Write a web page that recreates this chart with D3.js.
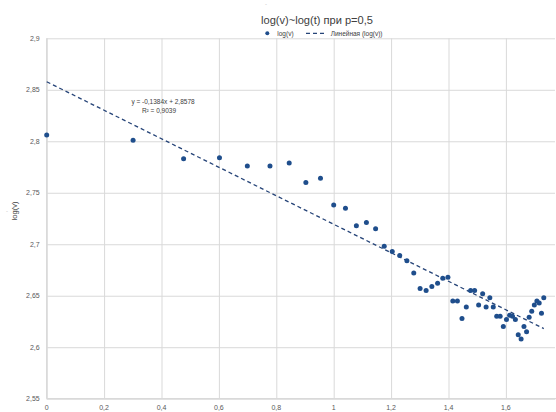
<!DOCTYPE html>
<html>
<head>
<meta charset="utf-8">
<script src="https://cdn.jsdelivr.net/npm/d3@7"></script>
<style>
  body { margin: 0; background: #fff; }
  svg { display: block; }
  text { font-family: "Liberation Sans", Arial, sans-serif; }
</style>
</head>
<body>
<svg id="chart" width="556" height="412"></svg>
<script>
// log(t), t = 1..54
var logT = [0, 0.301, 0.477, 0.602, 0.699, 0.778, 0.845, 0.903, 0.954, 1,
    1.041, 1.079, 1.114, 1.146, 1.176, 1.204, 1.230, 1.255, 1.279, 1.301,
    1.322, 1.342, 1.362, 1.380, 1.398, 1.415, 1.431, 1.447, 1.462, 1.477,
    1.491, 1.505, 1.519, 1.531, 1.544, 1.556, 1.568, 1.580, 1.591, 1.602,
    1.613, 1.623, 1.633, 1.643, 1.653, 1.663, 1.672, 1.681, 1.690, 1.699,
    1.708, 1.716, 1.724, 1.732];
var logV = [2.806, 2.801, 2.783, 2.784, 2.776, 2.776, 2.779, 2.760, 2.764, 2.738,
    2.735, 2.718, 2.721, 2.715, 2.698, 2.693, 2.689, 2.684, 2.672, 2.657,
    2.655, 2.659, 2.662, 2.667, 2.668, 2.645, 2.645, 2.628, 2.639, 2.655,
    2.655, 2.641, 2.652, 2.639, 2.648, 2.639, 2.630, 2.630, 2.620, 2.627,
    2.631, 2.630, 2.627, 2.612, 2.608, 2.620, 2.615, 2.629, 2.635, 2.641,
    2.645, 2.643, 2.633, 2.648];
var xTicks = [0, 0.2, 0.4, 0.6, 0.8, 1, 1.2, 1.4, 1.6, 1.8];
var yTicks = [2.55, 2.6, 2.65, 2.7, 2.75, 2.8, 2.85, 2.9];
var slope = -0.1384;
var intercept = 2.8578;

var svg = d3.select("#chart");
var W = 556;
var plotL = 46.7, plotT = 38.3, plotB = 398.7;

var ru = d3.formatLocale({ decimal: ",", thousands: " ", grouping: [3], currency: ["", ""] });
var fmt = ru.format("~g");

var x = d3.scaleLinear().domain([0, 1.8]).range([plotL, plotL + 287 * 1.8]);
var y = d3.scaleLinear().domain([2.55, 2.9]).range([plotB, plotT]);

// gridlines
var gy = svg.append("g")
    .attr("transform", "translate(" + plotL + ",0)")
    .call(d3.axisLeft(y).tickValues(yTicks).tickSize(-(W - plotL - 1)).tickFormat(""));
var gx = svg.append("g")
    .attr("transform", "translate(0," + plotB + ")")
    .call(d3.axisBottom(x).tickValues(xTicks).tickSize(-(plotB - plotT)).tickFormat(""));
[gy, gx].forEach(function (g) {
    g.select(".domain").remove();
    g.selectAll("line").attr("stroke", "#d9d9d9").attr("stroke-width", 1);
});

// axis lines
svg.append("line")
    .attr("x1", plotL).attr("x2", plotL).attr("y1", plotT).attr("y2", plotB)
    .attr("stroke", "#d9d9d9").attr("stroke-width", 1.3);
svg.append("line")
    .attr("x1", plotL).attr("x2", W).attr("y1", plotB).attr("y2", plotB)
    .attr("stroke", "#d9d9d9").attr("stroke-width", 1.3);

// tick labels
svg.append("g").selectAll("text")
    .data(yTicks)
    .join("text")
    .attr("x", plotL - 7)
    .attr("y", function (d) { return y(d) + 2.5; })
    .attr("text-anchor", "end")
    .attr("font-size", "7px")
    .attr("fill", "#595959")
    .text(function (d) { return fmt(d); });

svg.append("g").selectAll("text")
    .data(xTicks.filter(function (d) { return d < 1.7; }))
    .join("text")
    .attr("x", function (d) { return x(d); })
    .attr("y", 410)
    .attr("text-anchor", "middle")
    .attr("font-size", "7px")
    .attr("fill", "#595959")
    .text(function (d) { return fmt(d); });

// trend line
svg.append("line")
    .attr("x1", x(0)).attr("y1", y(intercept))
    .attr("x2", x(d3.max(logT))).attr("y2", y(intercept + slope * d3.max(logT)))
    .attr("stroke", "#264478")
    .attr("stroke-width", 1.3)
    .attr("stroke-dasharray", "4,3");

// points
svg.append("g").selectAll("circle")
    .data(logT)
    .join("circle")
    .attr("cx", function (d) { return x(d); })
    .attr("cy", function (d, i) { return y(logV[i]); })
    .attr("r", 2.5)
    .attr("fill", "#1f4e8c");

// equation
svg.append("text")
    .attr("x", 163).attr("y", 103.5)
    .attr("text-anchor", "middle")
    .attr("font-size", "6.5px")
    .attr("fill", "#404040")
    .text("y = -0,1384x + 2,8578");
svg.append("text")
    .attr("x", 159).attr("y", 112.5)
    .attr("text-anchor", "middle")
    .attr("font-size", "6.5px")
    .attr("fill", "#404040")
    .text("R² = 0,9039");

// title
svg.append("text")
    .attr("x", 317).attr("y", 24)
    .attr("text-anchor", "middle")
    .attr("font-size", "11.5px")
    .attr("textLength", 112)
    .attr("lengthAdjust", "spacingAndGlyphs")
    .attr("fill", "#404040")
    .text("log(v)~log(t) при p=0,5");
svg.append("text")
    .attr("x", 266).attr("y", 6)
    .attr("text-anchor", "middle")
    .attr("font-size", "6px")
    .attr("fill", "#bfbfbf")
    .text("-");

// legend
svg.append("circle")
    .attr("cx", 267.3).attr("cy", 33.3).attr("r", 2)
    .attr("fill", "#1f4e8c");
svg.append("text")
    .attr("x", 277.3).attr("y", 35.5)
    .attr("font-size", "6.5px")
    .attr("fill", "#404040")
    .text("log(v)");
svg.append("line")
    .attr("x1", 306).attr("x2", 324).attr("y1", 33.3).attr("y2", 33.3)
    .attr("stroke", "#264478").attr("stroke-width", 1.2)
    .attr("stroke-dasharray", "4,3");
svg.append("text")
    .attr("x", 330.7).attr("y", 35.5)
    .attr("font-size", "6.5px")
    .attr("fill", "#404040")
    .text("Линейная (log(v))");

// y axis title
svg.append("text")
    .attr("transform", "translate(17,211) rotate(-90)")
    .attr("text-anchor", "middle")
    .attr("font-size", "7.5px")
    .attr("fill", "#404040")
    .text("log(v)");
svg.append("text")
    .attr("x", 7).attr("y", 213)
    .attr("text-anchor", "middle")
    .attr("font-size", "6px")
    .attr("fill", "#bfbfbf")
    .text("-");
</script>
</body>
</html>
